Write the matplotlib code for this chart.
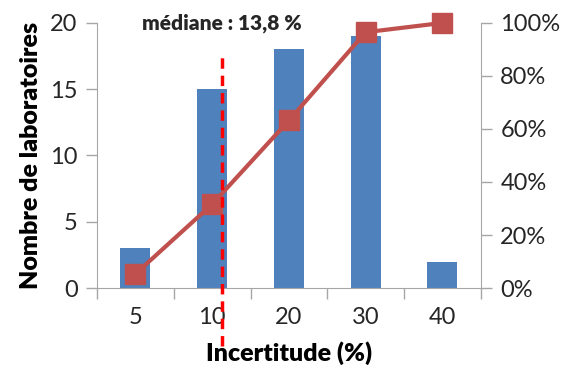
import numpy as np
import matplotlib.pyplot as plt
from matplotlib.ticker import FuncFormatter

# Données
categories = ["5", "10", "20", "30", "40"]
nb_labos = [3, 15, 18, 19, 2]
cumul_pct = [5.3, 31.6, 63.2, 96.5, 100.0]
median_label = "médiane : 13,8 %"
median_pos = 1.13  # position du trait de la médiane sur l'axe des catégories

bar_color = "#4F81BD"
line_color = "#C0504D"
grey = "#A6A6A6"

plt.rcParams['font.family'] = ['Lato', 'DejaVu Sans']

fig = plt.figure(figsize=(5.67, 3.76), dpi=100)
ax = fig.add_axes([0.171, 0.234, 0.677, 0.705])
x = np.arange(len(categories))

ax.bar(x, nb_labos, width=0.39, color=bar_color, zorder=2)
ax.set_xlim(-0.5, len(categories) - 0.5)
ax.set_ylim(0, 20)
ax.set_yticks([0, 5, 10, 15, 20])
ax.set_xticks(x)
ax.set_xticklabels(categories)
ax.set_xticks(np.arange(-0.5, len(categories), 1), minor=True)
ax.tick_params(axis='x', which='major', length=0, pad=14, labelsize=17, colors='#262626')
ax.tick_params(axis='x', which='minor', length=8, width=1, color=grey)
ax.tick_params(axis='y', length=8, width=1, color=grey, labelsize=17, labelcolor='#262626', pad=6)
for s in ['top', 'right']:
    ax.spines[s].set_visible(False)
for s in ['left', 'bottom']:
    ax.spines[s].set_color(grey)

ax.set_ylabel("Nombre de laboratoires", fontsize=18, fontweight='heavy', labelpad=6)
ax.set_xlabel("Incertitude (%)", fontsize=18, fontweight='heavy', labelpad=9)

# Axe secondaire : pourcentage cumulé
ax2 = ax.twinx()
ax2.plot(x, np.array(cumul_pct) / 100, color=line_color, lw=3, marker='s',
         markersize=14, zorder=3, clip_on=False)
ax2.set_ylim(0, 1)
ax2.set_yticks(np.linspace(0, 1, 6))
ax2.yaxis.set_major_formatter(FuncFormatter(lambda v, p: f"{v*100:.0f}%"))
ax2.tick_params(axis='y', length=8, width=1, color=grey, labelsize=17, labelcolor='#262626', pad=6)
for s in ['top', 'left', 'bottom']:
    ax2.spines[s].set_visible(False)
ax2.spines['right'].set_color(grey)

# Trait de la médiane
ax2.plot([median_pos, median_pos], [-0.22, 0.87], color='#FF0000',
         lw=2.5, ls=(0, (3, 2)), clip_on=False, zorder=4)
ax2.text(median_pos, 1.0, median_label, ha='center', va='center',
         fontsize=15, fontweight='heavy', color='#262626')

fig.savefig("out.png", dpi=100)
